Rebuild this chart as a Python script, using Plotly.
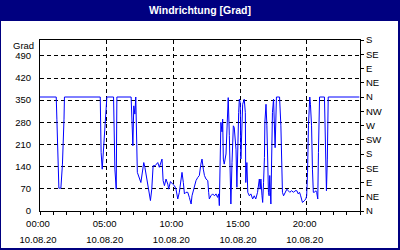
import plotly.graph_objects as go

date = "2020-08-10"
times = [
    "00:00", "01:13", "01:16", "01:21", "01:25", "01:34", "01:41", "01:48", "01:50",
    "04:31", "04:35", "04:40", "04:43", "04:51", "04:53", "04:56", "05:01",
    "05:31", "05:37", "05:43", "05:46",
    "06:50", "06:55", "06:58", "07:02", "07:07", "07:11", "07:18", "07:34", "07:47",
    "07:52", "07:56", "08:05", "08:11", "08:17", "08:23", "08:29", "08:38", "08:44",
    "08:50", "08:57", "09:05", "09:09", "09:14", "09:20", "09:27", "09:35", "09:39",
    "09:47", "09:57", "10:05", "10:12", "10:20", "10:27", "10:35", "10:39", "10:45",
    "10:50", "10:57", "11:05", "11:12", "11:20", "11:24", "11:32", "11:42", "11:50",
    "11:57", "12:04", "12:09", "12:15", "12:20", "12:27", "12:35", "12:39", "12:42",
    "12:49", "12:57", "13:05", "13:12", "13:19", "13:24", "13:27", "13:34", "13:39",
    "13:42", "13:45", "13:49", "13:57", "14:01", "14:07", "14:12", "14:16", "14:19",
    "14:24", "14:30", "14:34", "14:42", "14:46", "14:49", "14:54", "14:57", "15:01",
    "15:04", "15:08", "15:12", "15:19", "15:24", "15:26", "15:31", "15:35", "15:42",
    "15:49", "15:57", "16:04", "16:11", "16:19", "16:23", "16:27", "16:31", "16:34",
    "16:39", "16:42", "16:46", "16:50", "16:52", "16:57", "17:01", "17:04", "17:08",
    "17:11", "17:14", "17:19", "17:23", "17:26", "17:31", "17:34", "17:38", "17:44",
    "17:58", "18:04", "18:07", "18:11", "18:16", "18:22", "18:31", "18:37", "18:44",
    "18:52", "19:01", "19:08", "19:16", "19:22", "19:28", "19:33", "19:38", "19:41",
    "19:49", "19:56", "20:00", "20:04", "20:08", "20:14", "20:17", "20:22", "20:26",
    "20:30", "20:35", "20:41", "20:45", "20:50", "20:53", "20:55", "20:58", "21:20",
    "21:21", "21:23", "21:26", "21:29", "21:33", "21:37", "23:57",
]
direction = [
    360, 360, 290, 148, 72, 72, 148, 290, 360,
    360, 185, 132, 169, 248, 290, 332, 360,
    360, 132, 69, 360,
    360, 238, 206, 332, 306, 360, 122, 90, 153,
    138, 122, 80, 54, 33, 69, 143, 143, 148,
    153, 138, 153, 164, 96, 80, 101, 85, 69,
    93, 85, 80, 69, 38, 59, 96, 122, 90,
    54, 59, 59, 43, 22, 48, 69, 96, 106,
    112, 148, 164, 132, 112, 101, 96, 59, 38,
    48, 54, 48, 54, 43, 54, 17, 280, 250,
    290, 164, 148, 180, 238, 358, 238, 101, 22,
    153, 269, 264, 195, 75, 206, 311, 353, 343,
    164, 290, 337, 353, 311, 90, 153, 59, 48,
    54, 38, 48, 38, 59, 80, 101, 69, 101,
    48, 27, 90, 169, 280, 337, 269, 164, 59,
    48, 112, 22, 238, 311, 353, 290, 200, 360,
    360, 269, 132, 59, 48, 59, 69, 64, 59,
    64, 59, 64, 64, 54, 59, 48, 38, 27,
    32, 38, 48, 122, 269, 360, 337, 269, 132,
    59, 59, 64, 59, 38, 185, 280, 360, 360,
    311, 217, 112, 64, 164, 360, 360,
]
left_ticks = [0, 70, 140, 210, 280, 350, 420, 490]
compass_vals = [0, 45, 90, 135, 180, 225, 270, 315, 360, 405, 450, 495, 540]
compass_text = ["N", "NE", "E", "SE", "S", "SW", "W", "NW", "N", "NE", "E", "SE", "S"]

x = [f"{date} {t}" for t in times]
FONT = "Liberation Sans"
NAVY = "#000080"
xr = [f"{date} 00:00", "2020-08-11 00:00"]
H = 3600000

fig = go.Figure()
fig.add_trace(go.Scatter(x=x, y=direction, mode="lines",
                         line=dict(color="#0000ff", width=1), hoverinfo="skip"))
fig.add_trace(go.Scatter(x=x, y=direction, mode="lines", xaxis="x2", yaxis="y2",
                         line=dict(color="rgba(0,0,0,0)", width=0), hoverinfo="skip"))

fig.update_layout(
    width=400, height=250,
    margin=dict(l=40, r=40, t=40, b=39, autoexpand=False),
    paper_bgcolor=NAVY, plot_bgcolor="white",
    showlegend=False,
    font=dict(family=FONT, size=9.5, color="black"),
    title=dict(text="<b>Windrichtung [Grad]</b>", x=0.5, xref="paper", xanchor="center",
               y=1 - 10 / 250, yanchor="middle",
               font=dict(family=FONT, size=10.5, color="white")),
    xaxis=dict(type="date", range=xr, tick0=xr[0], dtick=5 * H, tickformat="%H:%M",
               showline=True, linecolor="black", linewidth=1, mirror=True,
               showgrid=True, gridcolor="black", gridwidth=1, griddash="4px,3px",
               ticks="outside", ticklen=3, tickcolor="black", ticklabelshift=-2,
               ticklabelstandoff=1, automargin=False,
               minor=dict(dtick=H, tick0=xr[0], ticks="outside", ticklen=3,
                          tickcolor="black", showgrid=False),
               zeroline=False, fixedrange=True),
    xaxis2=dict(type="date", range=xr, tick0=xr[0], dtick=5 * H, tickformat="%d.%m.%y",
                overlaying="x", anchor="y", side="bottom", showline=False,
                showgrid=False, ticks="", ticklabelstandoff=21, ticklabelshift=-2,
                automargin=False, zeroline=False),
    yaxis=dict(range=[0, 540], tickvals=left_ticks, showline=True, linecolor="black",
               linewidth=1, showgrid=True, gridcolor="black", gridwidth=1,
               griddash="4px,3px", ticks="", ticklabelstandoff=6, zeroline=False,
               automargin=False),
    yaxis2=dict(range=[0, 540], tickvals=compass_vals, ticktext=compass_text,
                overlaying="y", anchor="x", side="right", showline=True,
                linecolor="black", linewidth=1, showgrid=False, ticks="outside",
                ticklen=3, tickcolor="black", zeroline=False, automargin=False),
)

# white panel inside navy frame
fig.add_shape(type="rect", xref="paper", yref="paper",
              x0=(1 - 40) / 320, x1=(398 - 40) / 320,
              y0=(211 - 248) / 171, y1=(211 - 21) / 171,
              fillcolor="white", line=dict(width=0), layer="below")

fig.add_annotation(text="Grad", xref="paper", yref="paper", x=0, y=(211 - 45) / 171,
                   xanchor="right", yanchor="middle", xshift=-4, showarrow=False,
                   font=dict(family=FONT, size=9.5, color="black"))

fig.write_html("out.html")
